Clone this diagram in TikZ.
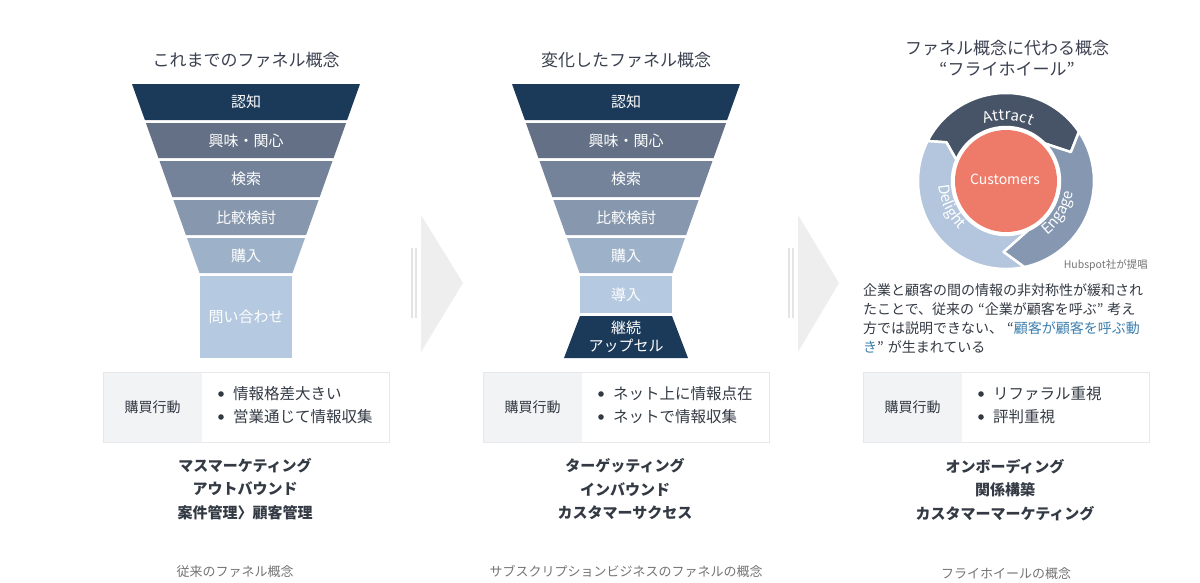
\documentclass[tikz,border=0pt]{standalone}
\usepackage{fontspec}
\setmainfont{Noto Sans CJK JP}
\usetikzlibrary{calc,decorations.text}
\definecolor{navy}{HTML}{1B3A5A}
\definecolor{fa}{HTML}{637085}
\definecolor{fb}{HTML}{74839A}
\definecolor{fc}{HTML}{8697AE}
\definecolor{fd}{HTML}{9DB1C9}
\definecolor{fe}{HTML}{B5C9E0}
\definecolor{arrowgray}{HTML}{EEEEEE}
\definecolor{arrowline}{HTML}{E4E4E4}
\definecolor{titlec}{HTML}{3B4150}
\definecolor{textc}{HTML}{333A44}
\definecolor{capc}{HTML}{757575}
\definecolor{cellg}{HTML}{F2F3F5}
\definecolor{cellb}{HTML}{E6E8EB}
\definecolor{attc}{HTML}{475467}
\definecolor{engc}{HTML}{8698B1}
\definecolor{delc}{HTML}{B3C6DD}
\definecolor{coral}{HTML}{EE7B69}
\definecolor{linkc}{HTML}{3C7FAE}
\newcommand{\fseg}[8]{%
  \fill[#7] ({#2-#5},-#3) -- ({#2+#5},-#3) -- ({#2+#6},-#4) -- ({#2-#6},-#4) -- cycle;
  \node[rowtext] (#1) at (#2,{-(#3+#4)/2}) {#8};}
\newcommand{\buytable}[4]{%
  \draw[cellb, fill=white] (#2,-372) rectangle ({#2+286},-442);
  \fill[cellg] ({#2+0.5},-372.5) rectangle ({#2+99},-441.5);
  \node[celltext] (#1h) at ({#2+49.5},-407) {購買行動};
  \fill[textc] ({#2+118},-394) circle[radius=2.8];
  \fill[textc] ({#2+118},-417) circle[radius=2.8];
  \node[itemtext] (#1a) at ({#2+130},-394) {#3};
  \node[itemtext] (#1b) at ({#2+130},-417) {#4};}
\newcommand{\wfont}{\fontsize{15}{15}\selectfont}
\newcommand{\oq}{\hspace{4pt}“}
\newcommand{\cq}{”\hspace{4pt}}
\begin{document}
\begin{tikzpicture}[x=1pt,y=1pt,
  rowtext/.style={text=white, font=\fontsize{15}{18}\selectfont, inner sep=0, align=center},
  titletext/.style={text=titlec, font=\fontsize{17}{20}\selectfont, inner sep=0},
  celltext/.style={text=textc, font=\fontsize{14}{16}\selectfont, inner sep=0},
  itemtext/.style={text=textc, font=\fontsize{15.5}{18}\selectfont, inner sep=0, anchor=west},
  boldtext/.style={text=textc, font=\bfseries\fontsize{15}{23.5}\selectfont, inner sep=0, align=center},
  captext/.style={text=capc, font=\fontsize{13}{15}\selectfont, inner sep=0},
  seg/.style={draw=white, line width=2.5pt, line join=round}]
\useasboundingbox (0,0) rectangle (1200,-582);
\fill[white] (0,0) rectangle (1200,-582);

% ---------- column 1 ----------
\node[titletext] (t1) at (246,-60) {これまでのファネル概念};
\fseg{a1}{246}{84}{120}{114}{101.1}{navy}{認知}
\fseg{a2}{246}{123}{158}{100.1}{87.6}{fa}{興味・関心}
\fseg{a3}{246}{161}{197}{86.5}{73.7}{fb}{検索}
\fseg{a4}{246}{200}{235}{72.6}{60.1}{fc}{比較検討}
\fseg{a5}{246}{238}{273}{59}{46.5}{fd}{購入}
\fseg{a6}{246}{276}{358}{46}{46}{fe}{問い合わせ}
\buytable{ta}{103}{情報格差大きい}{営業通じて情報収集}
\node[boldtext] (ba) at (245,-489) {マスマーケティング\\アウトバウンド\\案件管理〉顧客管理};
\node[captext] (ca) at (235,-572) {従来のファネル概念};

% ---------- arrows ----------
\fill[arrowgray] (421,-215) -- (463,-283) -- (421,-352) -- cycle;
\draw[arrowline, line width=1.3pt] (412,-248) -- (412,-318) (416,-248) -- (416,-318);
\fill[arrowgray] (798,-215) -- (839,-283) -- (798,-352) -- cycle;
\draw[arrowline, line width=1.3pt] (789,-248) -- (789,-318) (793,-248) -- (793,-318);

% ---------- column 2 ----------
\node[titletext] (t2) at (626,-60) {変化したファネル概念};
\fseg{b1}{626}{84}{120}{114}{101.1}{navy}{認知}
\fseg{b2}{626}{123}{158}{100.1}{87.6}{fa}{興味・関心}
\fseg{b3}{626}{161}{197}{86.5}{73.7}{fb}{検索}
\fseg{b4}{626}{200}{235}{72.6}{60.1}{fc}{比較検討}
\fseg{b5}{626}{238}{273}{59}{46.5}{fd}{購入}
\fseg{b6}{626}{276}{313}{46}{46}{fe}{導入}
\fseg{b7}{626}{316}{358}{46}{62}{navy}{継続\\アップセル}
\buytable{tb}{483}{ネット上に情報点在}{ネットで情報収集}
\node[boldtext] (bb) at (625,-489) {ターゲッティング\\インバウンド\\カスタマーサクセス};
\node[captext] (cb) at (626,-571) {サブスクリプションビジネスのファネルの概念};

% ---------- column 3 ----------
\node[titletext] (t3) at (1007,-48) {ファネル概念に代わる概念};
\node[titletext] (t4) at (1007,-69) {“フライホイール”};
\coordinate (W) at (1006,-181);
\filldraw[seg, fill=attc] ($(W)+(153:88)$) arc[start angle=153,end angle=34,radius=88]
  -- ($(W)+(24:71)$) -- ($(W)+(44:54)$) arc[start angle=44,end angle=157,radius=54]
  -- ($(W)+(147:71)$) -- cycle;
\filldraw[seg, fill=engc] ($(W)+(34:88)$) arc[start angle=34,end angle=-78,radius=88]
  -- ($(W)+(-92:71)$) -- ($(W)+(-66:54)$) arc[start angle=-66,end angle=44,radius=54]
  -- ($(W)+(24:71)$) -- cycle;
\filldraw[seg, fill=delc] ($(W)+(-78:88)$) arc[start angle=-78,end angle=-207,radius=88]
  -- ($(W)+(147:71)$) -- ($(W)+(157:54)$) arc[start angle=157,end angle=294,radius=54]
  -- ($(W)+(-92:71)$) -- cycle;
\fill[coral] (W) circle[radius=51];
\node[text=white, font=\fontsize{14}{16}\selectfont, inner sep=0] (cust) at (1005,-179) {Customers};
\path[decorate, decoration={text along path, text align=center, text color=white,
  text={|\wfont|Attract}}] ($(W)+(130:61)$) arc[start angle=130,end angle=46,radius=61];
\path[decorate, decoration={text along path, text align=center, text color=white,
  text={|\wfont|Engage}}] ($(W)+(-73:68)$) arc[start angle=-73,end angle=11,radius=68];
\path[decorate, decoration={text along path, text align=center, text color=white,
  text={|\wfont|Delight}}] ($(W)+(163:67)$) arc[start angle=163,end angle=247,radius=67];
\node[text=capc, font=\fontsize{10.5}{12}\selectfont, inner sep=0, anchor=east] (hs) at (1148,-265) {Hubspot社が提唱};
\node[text=textc, font=\fontsize{14}{19}\selectfont, inner sep=0, anchor=north west, align=left] (para) at (863,-283)
  {企業と顧客の間の情報の非対称性が緩和され\\
   たことで、従来の\oq 企業が顧客を呼ぶ\cq 考え\\
   方では説明できない、\oq{\color{linkc}顧客が顧客を呼ぶ動}\\
   {\color{linkc}き}\cq が生まれている};
\buytable{tc}{863}{リファラル重視}{評判重視}
\node[boldtext] (bc) at (1005,-490) {オンボーディング\\関係構築\\カスタマーマーケティング};
\node[captext] (cc) at (1006,-574) {フライホイールの概念};
\end{tikzpicture}
\end{document}
